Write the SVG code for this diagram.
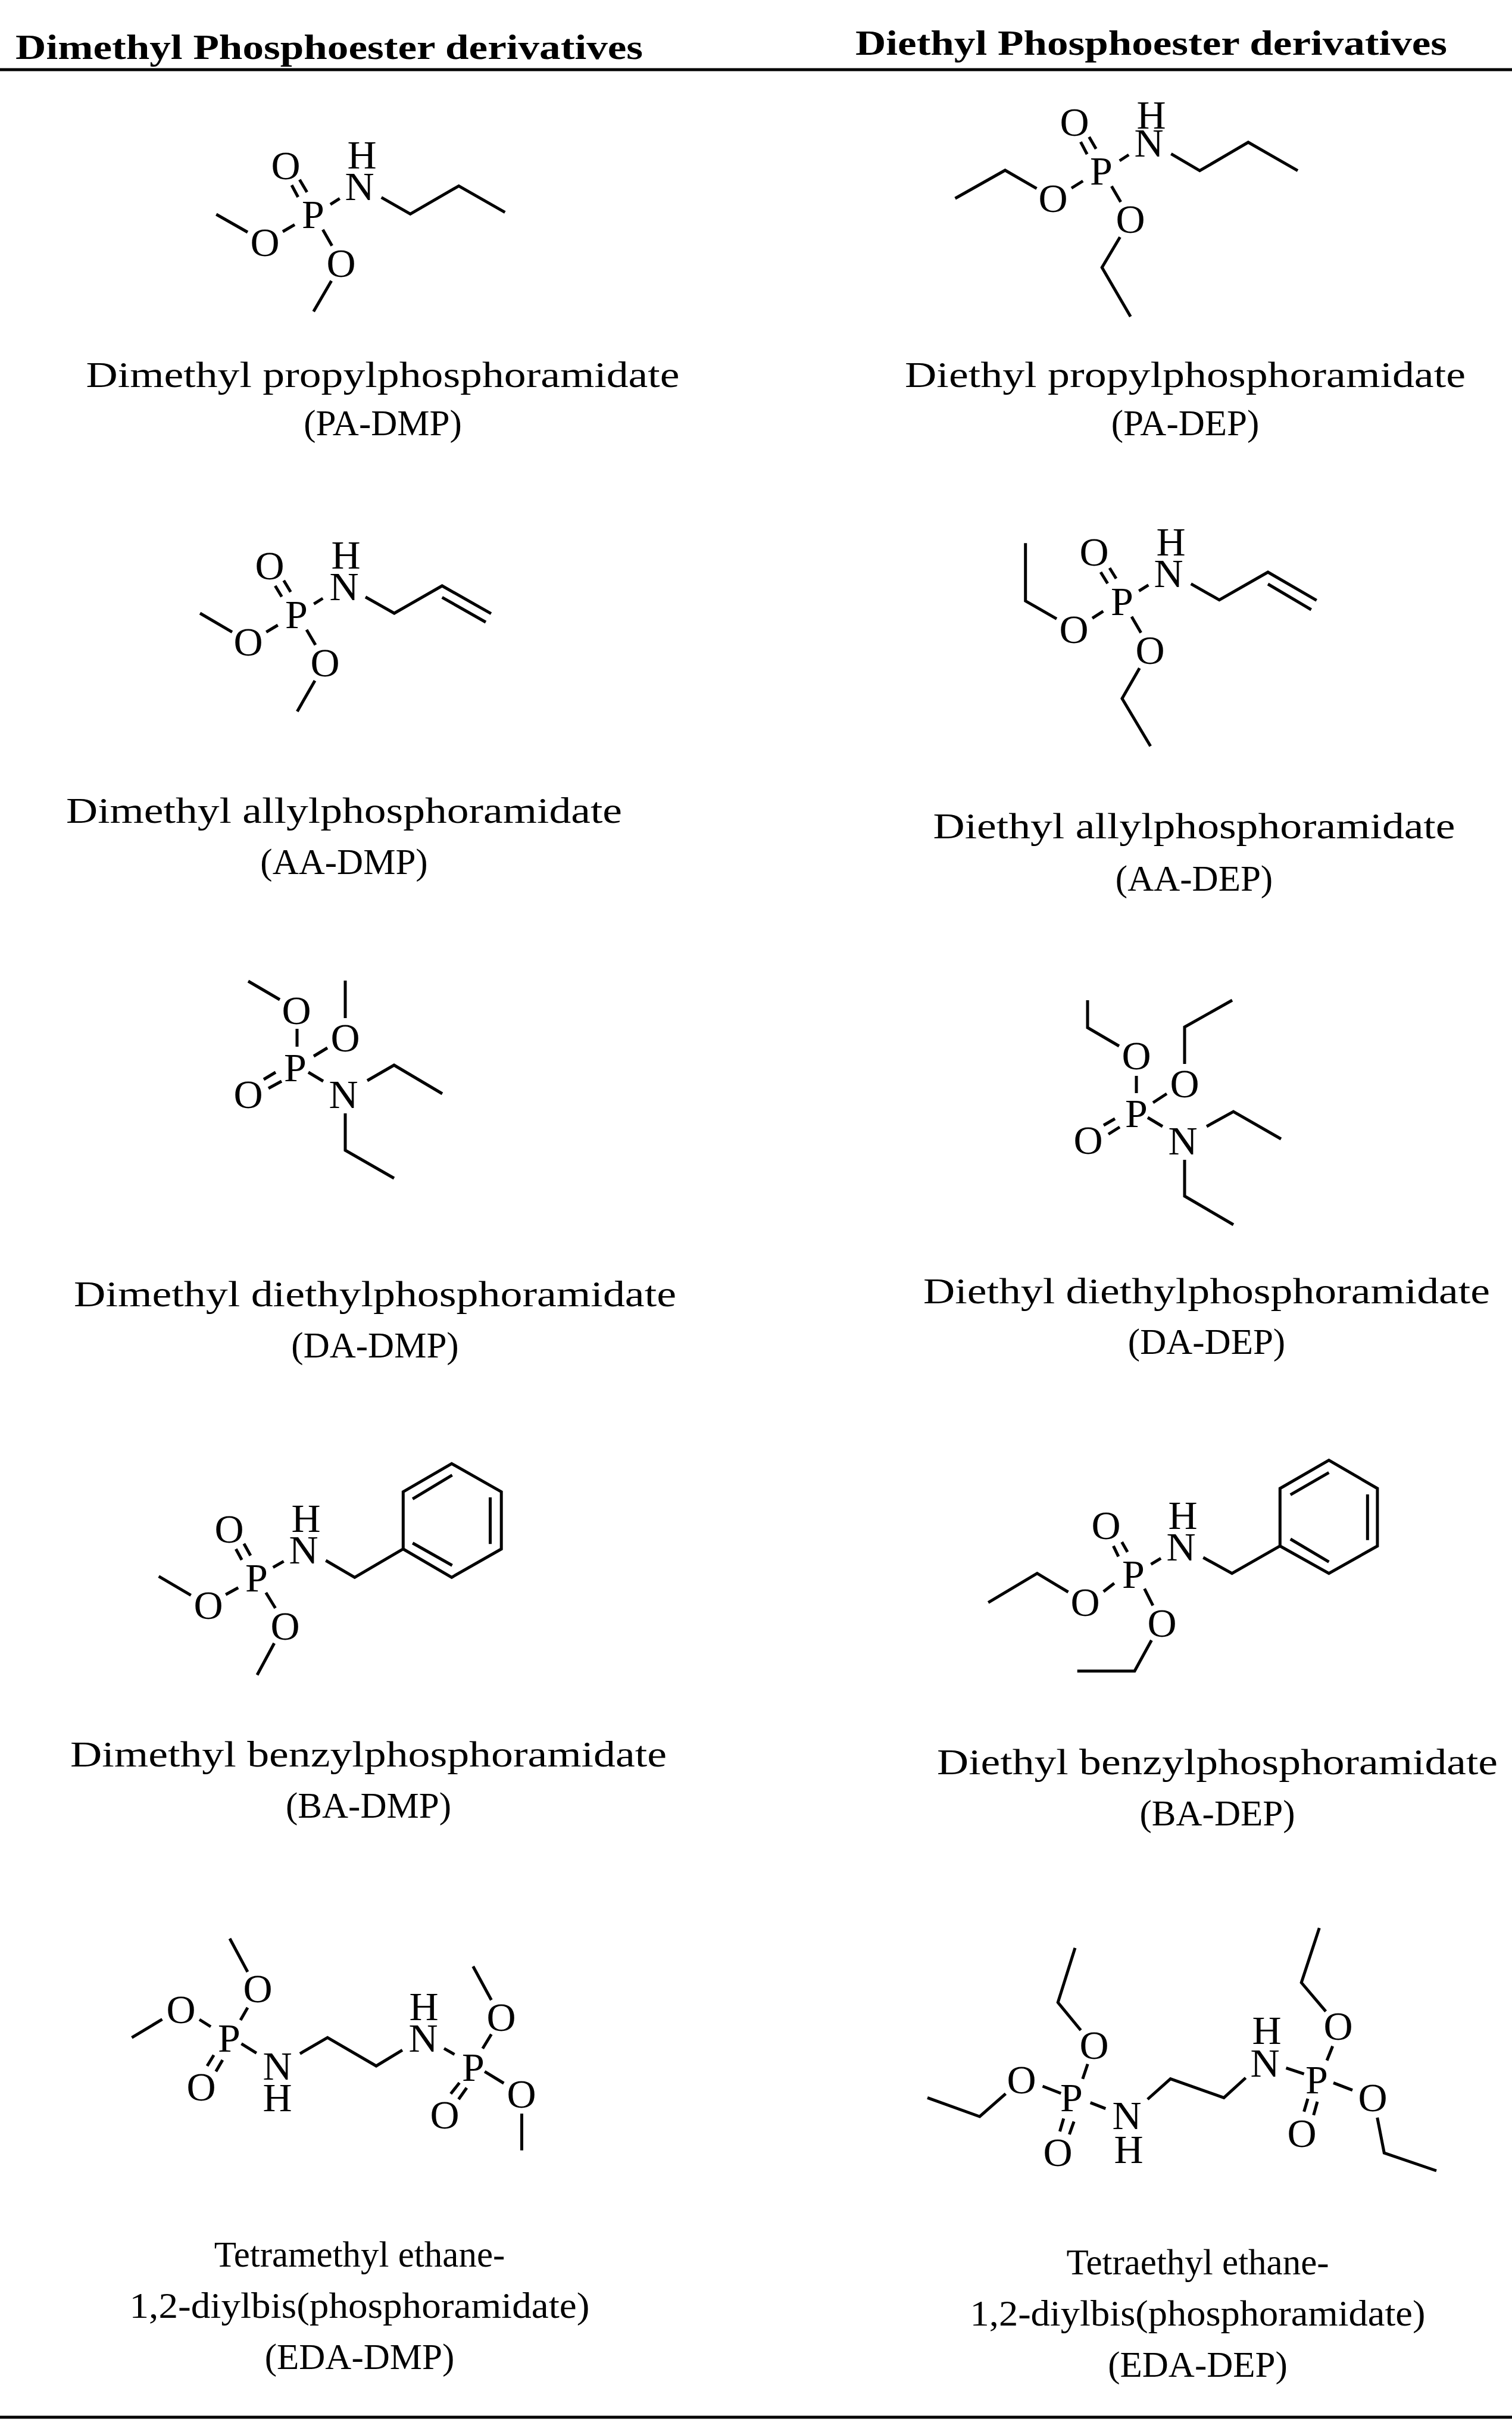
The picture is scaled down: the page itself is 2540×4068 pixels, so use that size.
<svg xmlns="http://www.w3.org/2000/svg" width="2540" height="4068" viewBox="0 0 2540 4068">
<style>
.b{stroke:#000;stroke-width:5;fill:none;stroke-linecap:butt;stroke-linejoin:miter}
.a{font-family:"Liberation Serif",serif;font-size:68px;text-anchor:middle;fill:#000}
.l{font-family:"Liberation Serif",serif;font-size:61px;text-anchor:middle;fill:#000}
.h{font-family:"Liberation Serif",serif;font-size:60px;font-weight:bold;fill:#000}
</style>
<rect width="2540" height="4068" fill="#fff"/>
<g id="table">
<text class="h" x="26" y="99" textLength="1054" lengthAdjust="spacingAndGlyphs">Dimethyl Phosphoester derivatives</text>
<text class="h" x="1437" y="92" textLength="994" lengthAdjust="spacingAndGlyphs">Diethyl Phosphoester derivatives</text>
<line class="b" x1="0" y1="117" x2="2540" y2="117"/>
<line class="b" x1="0" y1="4060" x2="2540" y2="4060"/>
</g>

<g id="pa-dmp">
<text class="a" x="480" y="301">O</text><text class="a" x="526" y="383">P</text>
<text class="a" x="608" y="283">H</text><text class="a" x="604" y="336">N</text>
<text class="a" x="445" y="430">O</text><text class="a" x="573" y="465">O</text>
<path class="b" d="M490,311L500.7,331M503.3,301.7L515.7,322.7M555,343.3L570.7,333.3M640.7,331.7L689.3,359.3L770.7,312.3L848.3,356.7M475,389L495,377.3M416,390L363.3,360M542.3,385.7L557.7,412.7M556.7,471.7L526.7,523.3"/>
<text class="l" x="643" y="650" textLength="997" lengthAdjust="spacingAndGlyphs">Dimethyl propylphosphoramidate</text>
<text class="l" x="643" y="731">(PA-DMP)</text>
</g>

<g id="pa-dep">
<text class="a" x="1805" y="228">O</text><text class="a" x="1850" y="310">P</text>
<text class="a" x="1934" y="216">H</text><text class="a" x="1930" y="263">N</text>
<text class="a" x="1769" y="356">O</text><text class="a" x="1899" y="391">O</text>
<path class="b" d="M1815.4,238.3L1826.2,259M1829.6,230L1841.2,250M1880.8,270L1896.2,260M1967.3,258.3L2015.4,286.7L2096.9,239L2180,286.7M1800,316L1819.2,304M1741.5,316.7L1688.5,286L1604.6,333.3M1867.3,312.7L1882.7,339.3M1881.5,398.3L1851.2,449.3L1899.2,531.7"/>
<text class="l" x="1991" y="650" textLength="942" lengthAdjust="spacingAndGlyphs">Diethyl propylphosphoramidate</text>
<text class="l" x="1991" y="731">(PA-DEP)</text>
</g>

<g id="aa-dmp">
<text class="a" x="453" y="973">O</text><text class="a" x="498" y="1055">P</text>
<text class="a" x="581" y="955">H</text><text class="a" x="578" y="1008">N</text>
<text class="a" x="417" y="1101">O</text><text class="a" x="546" y="1136">O</text>
<path class="b" d="M462.3,984L473.3,1002.3M476.7,975L488.3,994.3M527.3,1014.3L542.3,1005M614,1002.7L662.3,1030L742.7,984L825,1030.7M742.7,1003.3L816,1045M447.3,1061.7L466.7,1050M390,1061.7L336,1030M515,1057.7L530,1083.3M529,1143.3L499.3,1195"/>
<text class="l" x="578" y="1382" textLength="934" lengthAdjust="spacingAndGlyphs">Dimethyl allylphosphoramidate</text>
<text class="l" x="578" y="1468">(AA-DMP)</text>
</g>

<g id="aa-dep">
<text class="a" x="1838" y="950">O</text><text class="a" x="1885" y="1033">P</text>
<text class="a" x="1967" y="933">H</text><text class="a" x="1963" y="986">N</text>
<text class="a" x="1804" y="1080">O</text><text class="a" x="1932" y="1115">O</text>
<path class="b" d="M1849,961L1860.7,980M1864,954L1875,971.7M1913.3,992.7L1929.3,982.7M2000.7,980.7L2048.3,1007.7L2130,961L2211.7,1008.3M2130,981L2202.7,1024M1835,1038.3L1853.3,1026.7M1775,1039.3L1722.7,1009.3L1722.7,912.3M1901,1035.7L1916.7,1062.7M1914.3,1122.3L1885,1173.3L1932.7,1253.3"/>
<text class="l" x="2006" y="1408" textLength="877" lengthAdjust="spacingAndGlyphs">Diethyl allylphosphoramidate</text>
<text class="l" x="2006" y="1496">(AA-DEP)</text>
</g>

<g id="da-dmp">
<text class="a" x="498" y="1720">O</text><text class="a" x="496" y="1816">P</text>
<text class="a" x="580" y="1766">O</text><text class="a" x="417" y="1861">O</text>
<text class="a" x="577" y="1861">N</text>
<path class="b" d="M470,1679L417,1648M499,1728L499,1758M580,1710L580,1647M527,1774L550,1760M443,1813L463,1801M451,1828L473,1816M518,1801L543,1816M617,1815L662,1789L743,1837M580,1870L580,1932L662,1979"/>
<text class="l" x="630" y="2194" textLength="1012" lengthAdjust="spacingAndGlyphs">Dimethyl diethylphosphoramidate</text>
<text class="l" x="630" y="2280">(DA-DMP)</text>
</g>

<g id="da-dep">
<text class="a" x="1909" y="1796">O</text><text class="a" x="1909" y="1893">P</text>
<text class="a" x="1990" y="1843">O</text><text class="a" x="1828" y="1938">O</text>
<text class="a" x="1987" y="1939">N</text>
<path class="b" d="M1909,1807L1909,1836M1880,1757L1827,1726L1827,1680M1937,1852L1960,1837M1990,1787L1990,1725L2070,1680M1854,1890L1873,1879M1862,1905L1881,1893M1928,1877L1953,1892M2027,1892L2072,1867L2152,1913M1990,1948L1990,2009L2072,2057"/>
<text class="l" x="2027" y="2189" textLength="952" lengthAdjust="spacingAndGlyphs">Diethyl diethylphosphoramidate</text>
<text class="l" x="2027" y="2274">(DA-DEP)</text>
</g>

<g id="ba-dmp">
<text class="a" x="385" y="2591">O</text><text class="a" x="431" y="2673">P</text>
<text class="a" x="514" y="2573">H</text><text class="a" x="510" y="2626">N</text>
<text class="a" x="350" y="2719">O</text><text class="a" x="479" y="2754">O</text>
<path class="b" d="M396.3,2601.7L406.2,2620M409.8,2592.7L420.9,2612.7M458.7,2632.7L476.6,2622.3M547.3,2621L595.8,2649.3L677.3,2601.7M677.3,2601.7L677.3,2505.7L758.8,2458.3L842.2,2505.7L842.2,2601.7L758.8,2649.3Z M693.2,2517.7L759.6,2477.7M823.5,2515L823.5,2593.3M693.2,2591.7L759.6,2629.3M379.2,2678.3L400.2,2666.7M320.7,2679.3L266.7,2647.7M446.7,2675L462.6,2701M460.7,2760L432,2813.3"/>
<text class="l" x="619" y="2967" textLength="1002" lengthAdjust="spacingAndGlyphs">Dimethyl benzylphosphoramidate</text>
<text class="l" x="619" y="3053">(BA-DMP)</text>
</g>

<g id="ba-dep">
<text class="a" x="1858" y="2585">O</text><text class="a" x="1904" y="2667">P</text>
<text class="a" x="1987" y="2568">H</text><text class="a" x="1984" y="2621">N</text>
<text class="a" x="1823" y="2714">O</text><text class="a" x="1952" y="2749">O</text>
<path class="b" d="M1870.4,2596.7L1878.9,2614.3M1884.6,2590L1894.1,2606.7M1933.5,2627.3L1950.1,2617.3M2021.3,2616L2069.6,2642.7L2150.3,2596.7M2150.3,2596.7L2150.3,2500L2232.4,2452.7L2313.9,2500L2313.9,2596.7L2232.4,2642.7Z M2167.8,2510.7L2232.4,2473.3M2297.3,2510L2297.3,2586.7M2167.8,2585L2232.4,2623.3M1853.8,2673.3L1871.8,2659.3M1794.5,2674L1742.3,2642.7L1660.2,2691.7M1922.6,2668.3L1936.8,2696.7M1934.4,2755L1906,2806.7L1809.7,2806.7"/>
<text class="l" x="2045" y="2980" textLength="942" lengthAdjust="spacingAndGlyphs">Diethyl benzylphosphoramidate</text>
<text class="l" x="2045" y="3066">(BA-DEP)</text>
</g>

<g id="eda-dmp">
<text class="a" x="385" y="3446">P</text><text class="a" x="433" y="3363">O</text>
<text class="a" x="304" y="3398">O</text><text class="a" x="338" y="3528">O</text>
<text class="a" x="466" y="3493">N</text><text class="a" x="466" y="3546">H</text>
<text class="a" x="711" y="3446">N</text><text class="a" x="712" y="3393">H</text>
<text class="a" x="795" y="3495">P</text><text class="a" x="842" y="3411">O</text>
<text class="a" x="876" y="3540">O</text><text class="a" x="747" y="3575">O</text>
<path class="b" d="M404,3393L416,3372M416,3312L386,3256M335,3392L354,3404M272.5,3391.7L221.4,3422.3M359.2,3451.7L348,3470M373.9,3460L362.7,3479.3M405.5,3432.7L430.8,3448.3M503.9,3449.3L550.2,3422.3L632,3470L675.9,3443.3M746,3440.7L763.5,3450.7M810.8,3440.7L825.4,3416.7M825.4,3359.3L794.7,3302.7M814.2,3479.3L846.3,3499M876.5,3550L876.5,3611.7M771.8,3498.3L757.2,3516.7M784,3506.7L770.4,3526"/>
<text class="l" x="604" y="3807">Tetramethyl ethane-</text>
<text class="l" x="604" y="3893" textLength="773" lengthAdjust="spacingAndGlyphs">1,2-diylbis(phosphoramidate)</text>
<text class="l" x="604" y="3979">(EDA-DMP)</text>
</g>

<g id="eda-dep">
<text class="a" x="1800" y="3546">P</text><text class="a" x="1838" y="3458">O</text>
<text class="a" x="1716" y="3516">O</text><text class="a" x="1777" y="3638">O</text>
<text class="a" x="1893" y="3576">N</text><text class="a" x="1896" y="3633">H</text>
<text class="a" x="2125" y="3488">N</text><text class="a" x="2128" y="3433">H</text>
<text class="a" x="2212" y="3516">P</text><text class="a" x="2248" y="3426">O</text>
<text class="a" x="2306" y="3546">O</text><text class="a" x="2187" y="3606">O</text>
<path class="b" d="M1827.2,3466.7L1818.8,3491.7M1815.6,3410L1777.2,3363.3L1806,3271.7M1751.5,3504L1782.3,3516M1689.4,3516.7L1645.8,3555L1558,3523.3M1786.8,3558.3L1780.4,3580M1804.1,3563.3L1796.4,3585M1831.7,3531.7L1857.3,3541.7M1927.8,3526L1966.3,3491.7L2056,3523.3L2092.6,3490M2160.5,3473.3L2190.6,3483.3M2238.7,3436.7L2229.1,3460.7M2227.2,3378.3L2186.2,3330L2216.3,3238.3M2240,3498.3L2272,3510.7M2313.7,3556.7L2325.3,3616L2413,3646M2197,3525L2190.6,3546.7M2213,3530L2206.7,3552.7"/>
<text class="l" x="2012" y="3820">Tetraethyl ethane-</text>
<text class="l" x="2012" y="3906" textLength="765" lengthAdjust="spacingAndGlyphs">1,2-diylbis(phosphoramidate)</text>
<text class="l" x="2012" y="3992">(EDA-DEP)</text>
</g>
</svg>
